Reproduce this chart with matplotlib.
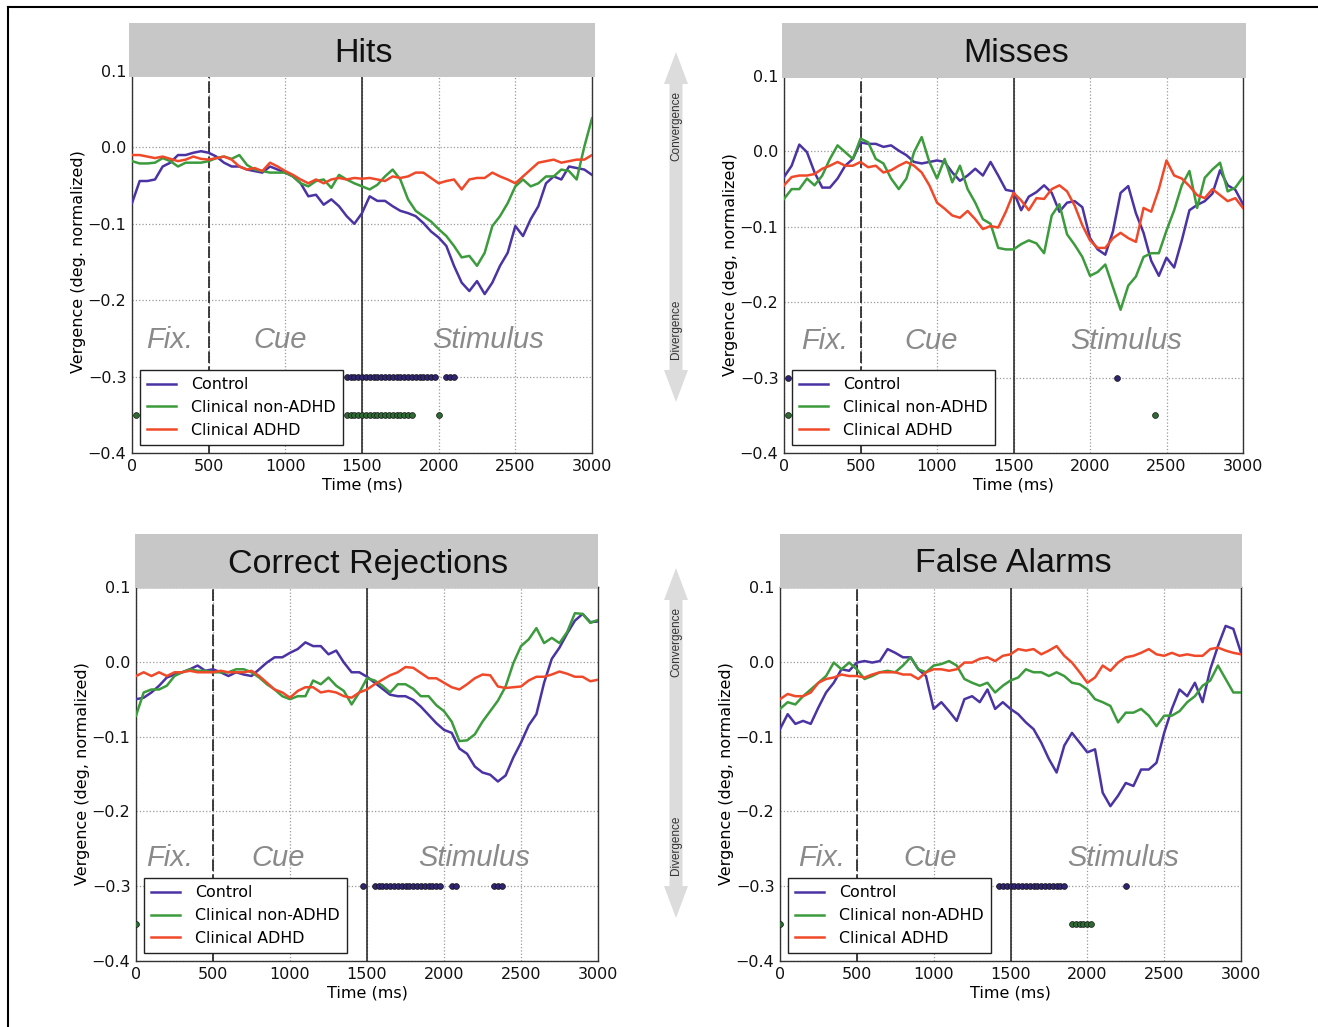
import numpy as np
import matplotlib
matplotlib.use('Agg')
import matplotlib.pyplot as plt
from matplotlib.patches import Rectangle, FancyArrow
from matplotlib.lines import Line2D

# --- data (50 ms steps) ---
time_ms = np.arange(0, 3001, 50)
groups = ['Control', 'Clinical non-ADHD', 'Clinical ADHD']
phase_names = ['Fix.', 'Cue', 'Stimulus']

hits_control = [-0.073, -0.044, -0.044, -0.042, -0.025, -0.020, -0.010, -0.010, -0.007, -0.005,
                -0.007, -0.012, -0.020, -0.025, -0.025, -0.029, -0.031, -0.033, -0.025, -0.029,
                -0.033, -0.038, -0.047, -0.064, -0.062, -0.075, -0.068, -0.077, -0.090, -0.100,
                -0.086, -0.064, -0.070, -0.070, -0.077, -0.083, -0.086, -0.090, -0.099, -0.110,
                -0.118, -0.129, -0.155, -0.177, -0.188, -0.175, -0.192, -0.177, -0.155, -0.138,
                -0.103, -0.116, -0.094, -0.077, -0.047, -0.038, -0.042, -0.025, -0.027, -0.029,
                -0.036]
hits_nonadhd = [-0.018, -0.021, -0.021, -0.020, -0.014, -0.018, -0.025, -0.020, -0.020, -0.020,
                -0.018, -0.014, -0.012, -0.015, -0.010, -0.023, -0.029, -0.031, -0.033, -0.033,
                -0.033, -0.038, -0.047, -0.051, -0.044, -0.042, -0.053, -0.036, -0.042, -0.047,
                -0.051, -0.055, -0.049, -0.038, -0.029, -0.042, -0.068, -0.083, -0.090, -0.097,
                -0.107, -0.116, -0.129, -0.144, -0.142, -0.155, -0.138, -0.103, -0.090, -0.073,
                -0.051, -0.042, -0.051, -0.047, -0.038, -0.038, -0.029, -0.031, -0.042, 0.001,
                0.038]
hits_adhd = [-0.010, -0.010, -0.012, -0.014, -0.012, -0.015, -0.018, -0.016, -0.012, -0.015,
             -0.016, -0.014, -0.012, -0.016, -0.025, -0.029, -0.027, -0.031, -0.020, -0.025,
             -0.031, -0.036, -0.042, -0.047, -0.042, -0.047, -0.042, -0.040, -0.042, -0.040,
             -0.041, -0.040, -0.042, -0.044, -0.038, -0.040, -0.038, -0.033, -0.033, -0.040,
             -0.047, -0.044, -0.042, -0.055, -0.042, -0.040, -0.040, -0.033, -0.038, -0.042,
             -0.047, -0.038, -0.029, -0.020, -0.018, -0.016, -0.020, -0.018, -0.016, -0.016,
             -0.010]

misses_control = [-0.034, -0.019, 0.009, -0.001, -0.028, -0.048, -0.048, -0.036, -0.019, -0.010,
                  0.012, 0.010, 0.010, 0.006, 0.008, 0.001, -0.005, -0.014, -0.016, -0.014,
                  -0.012, -0.014, -0.028, -0.039, -0.032, -0.023, -0.032, -0.014, -0.032, -0.051,
                  -0.053, -0.078, -0.060, -0.054, -0.045, -0.055, -0.080, -0.068, -0.066, -0.074,
                  -0.115, -0.130, -0.137, -0.106, -0.055, -0.046, -0.082, -0.108, -0.145, -0.165,
                  -0.141, -0.154, -0.118, -0.078, -0.071, -0.066, -0.056, -0.025, -0.045, -0.051,
                  -0.070]
misses_nonadhd = [-0.063, -0.050, -0.050, -0.036, -0.045, -0.032, -0.010, 0.008, -0.001, -0.010,
                  0.017, 0.012, -0.010, -0.016, -0.036, -0.050, -0.036, -0.001, 0.019, -0.014,
                  -0.036, -0.010, -0.041, -0.019, -0.050, -0.068, -0.090, -0.096, -0.128, -0.130,
                  -0.130, -0.123, -0.118, -0.122, -0.135, -0.085, -0.070, -0.110, -0.124, -0.140,
                  -0.165, -0.160, -0.150, -0.180, -0.210, -0.178, -0.166, -0.140, -0.135, -0.135,
                  -0.105, -0.078, -0.045, -0.026, -0.075, -0.035, -0.024, -0.015, -0.053, -0.048,
                  -0.034]
misses_adhd = [-0.045, -0.034, -0.032, -0.032, -0.030, -0.023, -0.019, -0.014, -0.019, -0.019,
               -0.014, -0.021, -0.019, -0.028, -0.025, -0.019, -0.014, -0.019, -0.028, -0.045,
               -0.068, -0.076, -0.085, -0.088, -0.079, -0.090, -0.103, -0.099, -0.101, -0.080,
               -0.055, -0.065, -0.078, -0.062, -0.063, -0.050, -0.045, -0.053, -0.072, -0.098,
               -0.118, -0.128, -0.128, -0.115, -0.108, -0.115, -0.120, -0.075, -0.080, -0.050,
               -0.012, -0.032, -0.036, -0.046, -0.058, -0.062, -0.050, -0.058, -0.066, -0.062,
               -0.075]

cr_control = [-0.050, -0.048, -0.041, -0.032, -0.021, -0.017, -0.014, -0.010, -0.005, -0.012,
              -0.010, -0.014, -0.019, -0.014, -0.017, -0.019, -0.010, -0.001, 0.006, 0.006,
              0.012, 0.017, 0.026, 0.021, 0.021, 0.010, 0.015, -0.001, -0.014, -0.014,
              -0.020, -0.028, -0.036, -0.044, -0.046, -0.046, -0.051, -0.060, -0.071, -0.082,
              -0.091, -0.095, -0.116, -0.123, -0.140, -0.148, -0.151, -0.160, -0.152, -0.128,
              -0.108, -0.085, -0.070, -0.028, 0.004, 0.019, 0.038, 0.055, 0.064, 0.053,
              0.054]
cr_nonadhd = [-0.072, -0.041, -0.037, -0.037, -0.032, -0.019, -0.014, -0.010, -0.012, -0.012,
              -0.014, -0.014, -0.014, -0.010, -0.010, -0.014, -0.021, -0.030, -0.037, -0.046,
              -0.050, -0.046, -0.046, -0.025, -0.030, -0.021, -0.032, -0.039, -0.057, -0.041,
              -0.022, -0.025, -0.032, -0.041, -0.030, -0.030, -0.036, -0.046, -0.046, -0.058,
              -0.066, -0.080, -0.106, -0.105, -0.097, -0.080, -0.066, -0.052, -0.033, -0.002,
              0.021, 0.030, 0.045, 0.025, 0.032, 0.025, 0.040, 0.065, 0.064, 0.052,
              0.056]
cr_adhd = [-0.019, -0.014, -0.019, -0.014, -0.019, -0.014, -0.014, -0.012, -0.014, -0.014,
           -0.014, -0.012, -0.014, -0.014, -0.014, -0.012, -0.019, -0.028, -0.037, -0.041,
           -0.048, -0.039, -0.034, -0.034, -0.041, -0.039, -0.041, -0.046, -0.048, -0.041,
           -0.037, -0.030, -0.024, -0.018, -0.014, -0.007, -0.008, -0.015, -0.022, -0.022,
           -0.028, -0.034, -0.037, -0.030, -0.022, -0.017, -0.018, -0.033, -0.035, -0.034,
           -0.033, -0.025, -0.020, -0.020, -0.017, -0.013, -0.016, -0.020, -0.020, -0.026,
           -0.024]

fa_control = [-0.090, -0.070, -0.083, -0.079, -0.083, -0.061, -0.041, -0.028, -0.010, -0.012,
              -0.001, 0.001, -0.001, 0.001, 0.017, 0.012, 0.006, 0.006, -0.010, -0.019,
              -0.063, -0.054, -0.066, -0.079, -0.050, -0.046, -0.054, -0.037, -0.063, -0.054,
              -0.063, -0.070, -0.081, -0.090, -0.108, -0.130, -0.148, -0.112, -0.095, -0.108,
              -0.121, -0.117, -0.175, -0.193, -0.179, -0.162, -0.166, -0.144, -0.144, -0.135,
              -0.095, -0.063, -0.037, -0.046, -0.028, -0.054, -0.010, 0.021, 0.048, 0.044,
              0.012]
fa_nonadhd = [-0.063, -0.054, -0.057, -0.046, -0.037, -0.028, -0.019, -0.001, -0.010, -0.001,
              -0.010, -0.023, -0.019, -0.014, -0.012, -0.014, -0.005, 0.006, -0.010, -0.014,
              -0.005, -0.003, 0.001, -0.005, -0.023, -0.028, -0.032, -0.028, -0.041, -0.032,
              -0.025, -0.021, -0.010, -0.014, -0.014, -0.019, -0.014, -0.019, -0.028, -0.030,
              -0.037, -0.050, -0.054, -0.059, -0.081, -0.068, -0.068, -0.063, -0.072, -0.086,
              -0.072, -0.072, -0.066, -0.054, -0.046, -0.032, -0.025, -0.005, -0.023, -0.041,
              -0.041]
fa_adhd = [-0.050, -0.043, -0.046, -0.046, -0.041, -0.028, -0.023, -0.021, -0.017, -0.019,
           -0.019, -0.021, -0.017, -0.014, -0.014, -0.014, -0.017, -0.017, -0.023, -0.014,
           -0.010, -0.010, -0.012, -0.010, -0.001, -0.001, 0.004, 0.006, 0.001, 0.008,
           0.010, 0.017, 0.015, 0.017, 0.010, 0.015, 0.021, 0.008, -0.001, -0.014,
           -0.028, -0.021, -0.005, -0.012, -0.001, 0.006, 0.008, 0.012, 0.017, 0.010,
           0.008, 0.012, 0.008, 0.010, 0.008, 0.008, 0.017, 0.019, 0.015, 0.012,
           0.010]

# significant time points (dots at -0.3 for control, -0.35 for clinical non-ADHD)
hits_sig_control = [1400, 1425, 1450, 1475, 1500, 1525, 1550, 1575, 1600, 1625, 1650, 1675, 1700,
                    1725, 1750, 1775, 1800, 1825, 1850, 1875, 1900, 1925, 1950, 1975, 2050, 2075, 2100]
hits_sig_nonadhd = [25, 1400, 1425, 1450, 1475, 1500, 1525, 1550, 1575, 1600, 1625, 1650, 1675,
                    1700, 1725, 1750, 1775, 1800, 1825, 2000]
misses_sig_control = [25, 2175]
misses_sig_nonadhd = [25, 2425]
cr_sig_control = [1475, 1550, 1575, 1600, 1625, 1650, 1675, 1700, 1725, 1750, 1775, 1800, 1825,
                  1850, 1875, 1900, 1925, 1950, 1975, 2050, 2075, 2325, 2350, 2375]
cr_sig_nonadhd = [0]
fa_sig_control = [1425, 1450, 1475, 1500, 1525, 1550, 1575, 1600, 1625, 1650, 1675, 1700, 1725,
                  1750, 1775, 1800, 1825, 1850, 2250]
fa_sig_nonadhd = [0, 1900, 1925, 1950, 1975, 2000, 2025]
sig_levels = [-0.30, -0.35]

# --- styling / layout (pixels in a 1318x1027 canvas) ---
W, H = 1318, 1027
line_colors = ['#4b33a3', '#3c9b3c', '#f0492a']
dot_colors = ['#2e2470', '#2f6a35']

panels = [
    dict(title='Hits', ylabel='Vergence (deg. normalized)',
         series=[hits_control, hits_nonadhd, hits_adhd],
         sig=[hits_sig_control, hits_sig_nonadhd],
         phase_t=[248, 965, 2320], phase_y=-0.252,
         ax=(132, 71, 592, 453), band=(129, 23, 595, 77)),
    dict(title='Misses', ylabel='Vergence (deg, normalized)',
         series=[misses_control, misses_nonadhd, misses_adhd],
         sig=[misses_sig_control, misses_sig_nonadhd],
         phase_t=[268, 960, 2235], phase_y=-0.252,
         ax=(784, 76, 1243, 453), band=(782, 23, 1246, 78)),
    dict(title='Correct Rejections', ylabel='Vergence (deg, normalized)',
         series=[cr_control, cr_nonadhd, cr_adhd],
         sig=[cr_sig_control, cr_sig_nonadhd],
         phase_t=[216, 922, 2195], phase_y=-0.262,
         ax=(136, 587, 598, 961), band=(135, 534, 598, 588)),
    dict(title='False Alarms', ylabel='Vergence (deg, normalized)',
         series=[fa_control, fa_nonadhd, fa_adhd],
         sig=[fa_sig_control, fa_sig_nonadhd],
         phase_t=[273, 974, 2231], phase_y=-0.262,
         ax=(780, 587, 1241, 961), band=(780, 534, 1242, 588)),
]


def fig_rect(x0, y0, x1, y1):
    return [x0 / W, 1 - y1 / H, (x1 - x0) / W, (y1 - y0) / H]


fig = plt.figure(figsize=(13.18, 10.27), dpi=100)
fig.patch.set_facecolor('white')

for p in panels:
    ax = fig.add_axes(fig_rect(*p['ax']))
    for vals, c, name in zip(p['series'], line_colors, groups):
        ax.plot(time_ms, vals, color=c, lw=1.8, label=name, zorder=3)
    for times, lev, dc in zip(p['sig'], sig_levels, dot_colors):
        ax.plot(times, [lev] * len(times), 'o', ms=4.2, mfc=dc, mec='#151515', mew=0.5,
                zorder=3, label='_nolegend_')

    ax.axvline(500, color='#1e1e1e', lw=1.2, ls=(0, (7, 2)), zorder=2)
    ax.axvline(1500, color='#1e1e1e', lw=1.1, zorder=2)

    for name, t in zip(phase_names, p['phase_t']):
        ax.text(t, p['phase_y'], name, style='italic', fontsize=21, color='#8a8a8a',
                ha='center', va='center', family='Liberation Sans', zorder=2)

    ax.set_xlim(0, 3000)
    ax.set_ylim(-0.4, 0.1)
    ax.set_xticks(np.arange(0, 3001, 500))
    ax.set_yticks([-0.4, -0.3, -0.2, -0.1, 0.0, 0.1])
    ax.grid(True, color='#9a9a9a', linestyle=':', linewidth=0.9)
    ax.set_axisbelow(True)
    ax.tick_params(length=0, labelsize=11.5, pad=4, colors='#111111')
    for s in ax.spines.values():
        s.set_color('#333333')
        s.set_linewidth(1.0)
    ax.set_xlabel('Time (ms)', fontsize=11.5, labelpad=3)
    ax.set_ylabel(p['ylabel'], fontsize=11.5, labelpad=1)

    leg = ax.legend(loc='lower left', fontsize=11.4, fancybox=False, framealpha=1,
                    edgecolor='#222222', handlelength=1.8, borderaxespad=0.5,
                    labelspacing=0.5, borderpad=0.45, handletextpad=1.0)
    leg.get_frame().set_linewidth(1.0)
    leg.set_zorder(5)

    bx0, by0, bx1, by1 = p['band']
    fig.add_artist(Rectangle((bx0 / W, 1 - by1 / H), (bx1 - bx0) / W, (by1 - by0) / H,
                             transform=fig.transFigure, facecolor='#c6c7c6',
                             edgecolor='none', zorder=3))
    fig.text((bx0 + bx1) / 2 / W + 2 / W, 1 - ((by0 + by1) / 2 + 3) / H, p['title'],
             fontsize=24.5, family='Liberation Sans', color='#111111',
             ha='center', va='center', zorder=4)

# convergence / divergence arrows between the columns
arrow_x = 676
for top, bot in [(52, 402), (568, 918)]:
    mid = (top + bot) / 2
    for end in (top, bot):
        fig.add_artist(FancyArrow(arrow_x / W, 1 - mid / H, 0, (mid - end) / H,
                                  width=13 / W, head_width=24 / W, head_length=32 / H,
                                  length_includes_head=True, transform=fig.transFigure,
                                  facecolor='#dcdcdc', edgecolor='none', zorder=1))
    fig.text(arrow_x / W, 1 - (top + 74) / H, 'Convergence', rotation=90, fontsize=8.5,
             family='Liberation Sans', color='#333333', ha='center', va='center')
    fig.text(arrow_x / W, 1 - (top + 277) / H, 'Divergence', rotation=90, fontsize=8.5,
             family='Liberation Sans', color='#333333', ha='center', va='center')

# thin frame on the left and top of the page
fig.add_artist(Line2D([8 / W, 8 / W], [0, 1 - 7 / H], transform=fig.transFigure,
                      color='black', lw=1.5))
fig.add_artist(Line2D([8 / W, 1], [1 - 7 / H, 1 - 7 / H], transform=fig.transFigure,
                      color='black', lw=1.5))

fig.savefig('out.png', dpi=100)
